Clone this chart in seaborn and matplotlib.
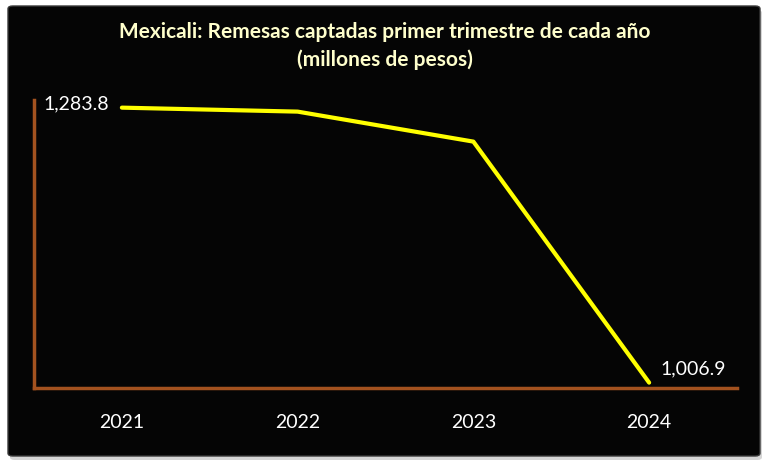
import matplotlib
matplotlib.use("Agg")
import matplotlib.pyplot as plt
from matplotlib.patches import FancyBboxPatch
import pandas as pd
import seaborn as sns

# values (millions of pesos)
years = ["2021", "2022", "2023", "2024"]
remesas = [1283.8, 1279.8, 1249.6, 1006.9]
labelled = ["2021", "2024"]

title = "Mexicali: Remesas captadas primer trimestre de cada año\n(millones de pesos)"

df = pd.DataFrame({"year": years, "remesas": remesas})

sns.set_style("white")
plt.rcParams["font.family"] = ["Lato", "DejaVu Sans"]

fig = plt.figure(figsize=(7.7, 4.7), dpi=100, facecolor="white")

# black panel with a soft shadow, like the spreadsheet chart area
shadow = FancyBboxPatch((10 / 770, 1 - 460 / 470), 752 / 770, 450 / 470,
                        boxstyle="round,pad=0,rounding_size=0.006",
                        transform=fig.transFigure, facecolor="#bbbbbb",
                        edgecolor="none", alpha=0.6, zorder=-3)
panel = FancyBboxPatch((8 / 770, 1 - 456 / 470), 752 / 770, 450 / 470,
                       boxstyle="round,pad=0,rounding_size=0.006",
                       transform=fig.transFigure, facecolor="#050505",
                       edgecolor="#3a3a3a", linewidth=1.0, zorder=-2)
fig.patches.extend([shadow, panel])

ax = fig.add_axes([34 / 770, 1 - 388 / 470, 703 / 770, 288 / 470])
ax.set_facecolor("none")

sns.lineplot(data=df, x="year", y="remesas", ax=ax, color="#FFFF00",
             linewidth=3.0, sort=False)

ax.set_xlim(-0.5, 3.5)
ax.set_ylim(1001.5, 1291.5)

for side in ["top", "right"]:
    ax.spines[side].set_visible(False)
for side in ["left", "bottom"]:
    ax.spines[side].set_color("#A3521F")
    ax.spines[side].set_linewidth(2.5)

ax.set_xlabel("")
ax.set_ylabel("")
ax.set_yticks([])
ax.tick_params(axis="x", length=0, pad=19, colors="white", labelsize=14)

# data labels on the first and last year
for yr, val in zip(years, remesas):
    if yr not in labelled:
        continue
    i = years.index(yr)
    if i == 0:
        ax.annotate(f"{val:,.1f}", xy=(i, val), xytext=(-9, 3),
                    textcoords="offset points", ha="right", va="center",
                    color="white", fontsize=14)
    else:
        ax.annotate(f"{val:,.1f}", xy=(i, val), xytext=(8, 10),
                    textcoords="offset points", ha="left", va="center",
                    color="white", fontsize=14)

fig.text(0.5, 1 - 46 / 470, title, ha="center", va="center",
         color="#FFFFCC", fontsize=15, fontweight="bold", linespacing=1.4)

fig.savefig("out.png", dpi=100, facecolor="white")
